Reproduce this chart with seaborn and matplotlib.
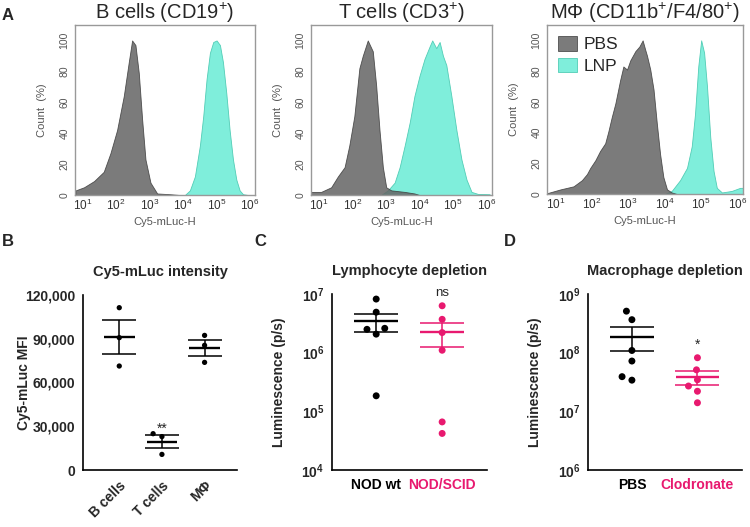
import numpy as np
import pandas as pd
import matplotlib
matplotlib.use("Agg")
import matplotlib.pyplot as plt
import matplotlib.ticker as mticker
import seaborn as sns

sns.set_style("white")
plt.rcParams['font.family'] = ['Liberation Sans', 'DejaVu Sans']
plt.rcParams['mathtext.fontset'] = 'custom'
plt.rcParams['mathtext.rm'] = 'Liberation Sans'
plt.rcParams['mathtext.bf'] = 'Liberation Sans:bold'
plt.rcParams['mathtext.default'] = 'regular'

# ---- Panel A: flow histograms (log10 Cy5-mLuc-H, count as % of max) ----
bcell_pbs_logx = [0.79, 1.04, 1.34, 1.63, 1.83, 2.03, 2.23, 2.38, 2.48, 2.58, 2.68, 2.78, 2.88, 3.03, 3.23, 3.62, 3.91]
bcell_pbs_pct = [3, 5, 9, 15, 27, 42, 64, 86, 100, 97, 79, 49, 23, 8, 1, 0.5, 0]
bcell_lnp_logx = [4.06, 4.21, 4.36, 4.51, 4.61, 4.71, 4.81, 4.91, 5.01, 5.11, 5.20, 5.30, 5.40, 5.50, 5.60, 5.70, 5.80, 5.95]
bcell_lnp_pct = [0, 3, 12, 32, 51, 75, 92, 99, 100, 97, 86, 66, 42, 23, 10, 3, 0.5, 0]

tcell_pbs_logx = [0.77, 1.07, 1.37, 1.57, 1.77, 1.91, 2.06, 2.21, 2.31, 2.46, 2.61, 2.71, 2.81, 2.91, 3.01, 3.16, 3.56, 3.85, 4.00]
tcell_pbs_pct = [2, 2, 5, 12, 18, 32, 51, 82, 90, 100, 93, 71, 42, 18, 5, 3, 2, 1, 0]
tcell_lnp_logx = [2.86, 3.06, 3.26, 3.41, 3.56, 3.71, 3.85, 4.00, 4.15, 4.30, 4.38, 4.50, 4.60, 4.70, 4.80, 4.95, 5.10, 5.25, 5.40, 5.55, 5.74, 6.09]
tcell_lnp_pct = [0, 3, 8, 18, 32, 47, 64, 77, 88, 96, 100, 95, 99, 90, 84, 64, 42, 23, 10, 2, 0.7, 0.5]

mac_pbs_logx = [0.77, 1.14, 1.50, 1.73, 1.87, 1.96, 2.10, 2.23, 2.37, 2.46, 2.55, 2.65, 2.78, 2.87, 2.97, 3.06, 3.20, 3.31, 3.40, 3.47, 3.52, 3.61, 3.70, 3.79, 3.88, 3.97, 4.07, 4.20, 4.34]
mac_pbs_pct = [0.5, 3, 5, 9, 13, 17, 22, 28, 33, 41, 50, 59, 74, 83, 81, 87, 93, 96, 100, 94, 90, 81, 68, 46, 26, 11, 3, 1, 0]
mac_lnp_logx = [4.02, 4.20, 4.43, 4.62, 4.75, 4.84, 4.93, 5.01, 5.09, 5.17, 5.26, 5.35, 5.44, 5.58, 5.85, 6.08, 6.17]
mac_lnp_pct = [0, 2, 9, 17, 31, 52, 83, 100, 92, 70, 37, 15, 4, 1, 2, 4, 4]

hist_titles = ['B cells (CD19$^{+}$)', 'T cells (CD3$^{+}$)', 'M\u03a6 (CD11b$^{+}$/F4/80$^{+}$)']

# ---- Panel B: MFI ----
mfi_groups = ['B cells', 'T cells', 'M\u03a6']
mfi_bcells = [111300, 90750, 71300]
mfi_tcells = [24900, 22900, 10700]
mfi_mac = [92300, 85500, 73800]

# ---- Panel C: lymphocyte depletion ----
lym_groups = ['NOD wt', 'NOD/SCID']
lum_nodwt = [8.2e6, 4.9e6, 2.6e6, 2.5e6, 2.07e6, 1.84e5]
lum_nodscid = [6.3e6, 3.7e6, 2.2e6, 1.1e6, 6.6e4, 4.2e4]

# ---- Panel D: macrophage depletion ----
mac_groups = ['PBS', 'Clodronate']
lum_pbs = [5.1e8, 3.65e8, 1.09e8, 7.2e7, 3.9e7, 3.4e7]
lum_clod = [8.2e7, 5.1e7, 3.45e7, 2.7e7, 2.2e7, 1.4e7]

GRAY = '#646464'
CYAN = '#7feedb'
PINK = '#e8196f'
TXT = '#555555'

fig = plt.figure(figsize=(7.5, 5.27), dpi=100)
W, H = 750, 527


def px_axes(left, right, top, bottom):
    return fig.add_axes([left / W, 1 - bottom / H, (right - left) / W, (bottom - top) / H])


hist_axes = [px_axes(75, 255, 25, 195), px_axes(311, 492, 25, 195), px_axes(547, 743, 25, 194)]
hist_data = [
    (bcell_pbs_logx, bcell_pbs_pct, bcell_lnp_logx, bcell_lnp_pct),
    (tcell_pbs_logx, tcell_pbs_pct, tcell_lnp_logx, tcell_lnp_pct),
    (mac_pbs_logx, mac_pbs_pct, mac_lnp_logx, mac_lnp_pct),
]

for ax, (px, py, lx, ly), title in zip(hist_axes, hist_data, hist_titles):
    ax.set_xscale('log')
    h_lnp = ax.fill_between(10 ** np.array(lx), ly, color=CYAN, edgecolor='#52cdb6', lw=0.6, label='LNP')
    h_pbs = ax.fill_between(10 ** np.array(px), py, color=GRAY, alpha=0.85, edgecolor='#3c3c3c', lw=0.6, label='PBS')
    ax.set_xlim(10 ** 0.77, 10 ** 6.16)
    ax.set_ylim(0, 110)
    ax.set_xticks([10 ** k for k in range(1, 7)])
    ax.set_xticklabels(['$10^{%d}$' % k for k in range(1, 7)])
    ax.xaxis.set_minor_locator(mticker.NullLocator())
    ax.set_yticks([0, 20, 40, 60, 80, 100])
    ax.tick_params(axis='x', labelsize=8.5, labelcolor='#333333', length=0, pad=2)
    ax.tick_params(axis='y', labelsize=7.5, labelcolor=TXT, length=2, color='#888888', pad=2)
    for lab in ax.get_yticklabels():
        lab.set_rotation(90)
        lab.set_va('center')
    for sp in ax.spines.values():
        sp.set_color('#999999')
        sp.set_linewidth(1)
    ax.set_xlabel('Cy5-mLuc-H', fontsize=8, color=TXT, labelpad=3)
    ax.set_ylabel('Count  (%)', fontsize=8, color=TXT, labelpad=9)
    ax.set_title(title, fontsize=14.5, pad=4)

hist_axes[2].legend(handles=[h_pbs, h_lnp], loc='upper left', frameon=False, fontsize=12.5,
                    handlelength=1.05, handleheight=0.9, handletextpad=0.4, labelspacing=0.3,
                    borderaxespad=0.25)

# ---------- bottom row ----------
axB = px_axes(83, 237, 295, 470)
axC = px_axes(332, 487, 294, 470)
axD = px_axes(588, 742, 294, 470)

dfB = pd.DataFrame({'group': np.repeat(mfi_groups, 3),
                    'value': mfi_bcells + mfi_tcells + mfi_mac})
dfC = pd.DataFrame({'group': np.repeat(lym_groups, 6), 'value': lum_nodwt + lum_nodscid})
dfD = pd.DataFrame({'group': np.repeat(mac_groups, 6), 'value': lum_pbs + lum_clod})


def mean_sem(ax, df, order, colors, half, cap):
    stats = df.groupby('group')['value'].agg(['mean', 'sem']).loc[order]
    for i, (g, row) in enumerate(stats.iterrows()):
        ax.hlines(row['mean'], i - half, i + half, color=colors[g], lw=1.7, zorder=4)
        ax.errorbar(i, row['mean'], yerr=row['sem'], fmt='none', ecolor=colors[g],
                    elinewidth=1.1, capsize=cap, capthick=1.1, zorder=4)


def style_bottom(ax):
    sns.despine(ax=ax)
    for sp in ['left', 'bottom']:
        ax.spines[sp].set_linewidth(1.2)
        ax.spines[sp].set_color('black')
    ax.tick_params(axis='y', length=4, width=1.2, labelsize=10, pad=1.5)
    for lab in ax.get_yticklabels():
        lab.set_fontweight('bold')
    ax.set_xlabel('')


# B
pal_B = {g: 'black' for g in mfi_groups}
sns.swarmplot(data=dfB, x='group', y='value', hue='group', palette=pal_B, order=mfi_groups,
              size=3.8, linewidth=2.6, edgecolor='none', legend=False, ax=axB)
mean_sem(axB, dfB, mfi_groups, pal_B, 0.36, 12)
axB.set_xlim(-0.85, 2.76)
axB.set_ylim(0, 120000)
axB.set_yticks([0, 30000, 60000, 90000, 120000])
axB.yaxis.set_major_formatter(mticker.FuncFormatter(lambda v, p: f'{int(v):,}'))
style_bottom(axB)
axB.tick_params(axis='x', length=4, width=1.2, labelsize=10, pad=2)
for lab in axB.get_xticklabels():
    lab.set_rotation(45)
    lab.set_ha('right')
    lab.set_rotation_mode('anchor')
    lab.set_fontweight('bold')
axB.set_ylabel('Cy5-mLuc MFI', fontsize=10, fontweight='bold', labelpad=-4)
axB.set_title('Cy5-mLuc intensity', fontsize=10.5, fontweight='bold', pad=13.5)
axB.text(1, 25500, '**', ha='center', va='baseline', fontsize=10)

# C and D
log_fmt = mticker.FuncFormatter(lambda v, p: r'$\mathbf{10^{%d}}$' % round(np.log10(v)))
for ax, df, groups, ylim, title in [
        (axC, dfC, lym_groups, (1e4, 1e7), 'Lymphocyte depletion'),
        (axD, dfD, mac_groups, (1e6, 1e9), 'Macrophage depletion')]:
    pal = {groups[0]: 'black', groups[1]: PINK}
    sns.swarmplot(data=df, x='group', y='value', hue='group', palette=pal, order=groups,
                  size=5, linewidth=2.2, edgecolor='none', log_scale=True, legend=False, ax=ax)
    mean_sem(ax, df, groups, pal, 0.33, 15.5)
    ax.set_xlim(-0.67, 1.68)
    ax.set_ylim(*ylim)
    ax.set_yticks([10 ** k for k in range(int(np.log10(ylim[0])), int(np.log10(ylim[1])) + 1)])
    ax.yaxis.set_major_formatter(log_fmt)
    ax.yaxis.set_minor_locator(mticker.NullLocator())
    style_bottom(ax)
    ax.set_xticks([0, 1])
    ax.set_xticklabels(groups)
    ax.xaxis.set_minor_locator(mticker.FixedLocator([0.5]))
    ax.tick_params(axis='x', which='major', length=0, labelsize=10, pad=6)
    ax.tick_params(axis='x', which='minor', length=5, width=1.2)
    for lab, c in zip(ax.get_xticklabels(), ['black', PINK]):
        lab.set_color(c)
        lab.set_fontweight('bold')
    ax.set_ylabel('Luminescence (p/s)', fontsize=10, fontweight='bold', labelpad=11)
    ax.set_title(title, fontsize=10.5, fontweight='bold', pad=13.5)

axC.text(1, 9.3e6, 'ns', ha='center', va='baseline', fontsize=9.5)
axD.text(1, 1.15e8, '*', ha='center', va='baseline', fontsize=10)

# panel letters
for letter, x, y in [('A', 8, 15), ('B', 8, 241), ('C', 260, 241), ('D', 510, 241)]:
    fig.text(x / W, 1 - y / H, letter, fontsize=12, fontweight='bold', ha='center', va='center')

fig.savefig('out.png', dpi=100)
